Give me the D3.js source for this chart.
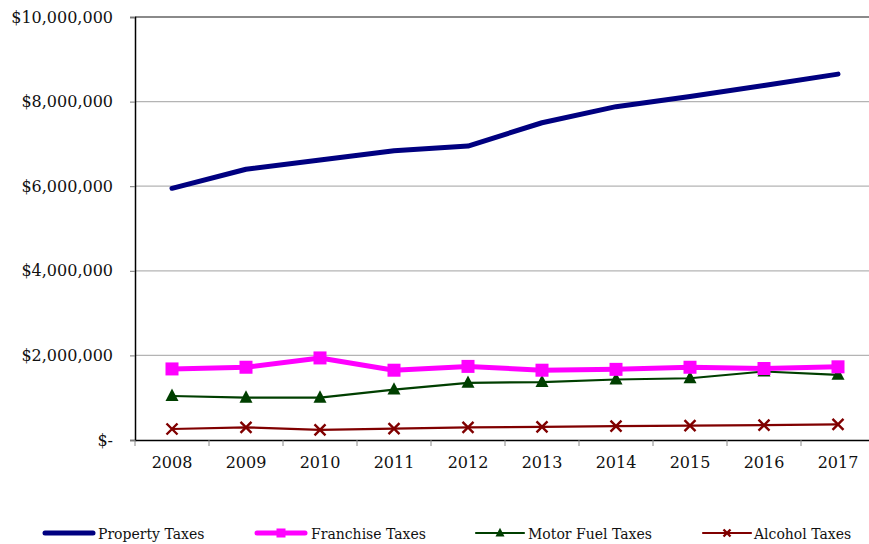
<!DOCTYPE html>
<html>
<head>
<meta charset="utf-8">
<script src="https://cdn.jsdelivr.net/npm/d3@7/dist/d3.min.js"></script>
<style>
  html, body { margin: 0; padding: 0; background: #fff; }
  svg { display: block; }
  text { font-family: "DejaVu Serif", "Liberation Serif", serif; fill: #111; }
</style>
</head>
<body>
<svg id="chart" width="869" height="544"></svg>
<script>
// Annual tax revenue by source, 2008–2017
const years = ["2008","2009","2010","2011","2012","2013","2014","2015","2016","2017"];
const propertyTaxes  = [5950000, 6400000, 6620000, 6840000, 6950000, 7500000, 7880000, 8120000, 8380000, 8650000];
const franchiseTaxes = [1680000, 1720000, 1940000, 1650000, 1740000, 1650000, 1670000, 1720000, 1690000, 1730000];
const motorFuelTaxes = [1040000, 1000000, 1000000, 1190000, 1350000, 1370000, 1430000, 1460000, 1620000, 1540000];
const alcoholTaxes   = [260000, 300000, 240000, 270000, 300000, 310000, 330000, 340000, 350000, 370000];
const yTicks = [0, 2000000, 4000000, 6000000, 8000000, 10000000];

const series = [
  { name: "Property Taxes",   values: propertyTaxes,  color: "#000080", width: 5,   marker: "none" },
  { name: "Franchise Taxes",  values: franchiseTaxes, color: "#FF00FF", width: 5,   marker: "square" },
  { name: "Motor Fuel Taxes", values: motorFuelTaxes, color: "#003F00", width: 2.2, marker: "triangle" },
  { name: "Alcohol Taxes",    values: alcoholTaxes,   color: "#800000", width: 2.2, marker: "cross" }
];

const svg = d3.select("#chart");
const plotLeft = 135, plotRight = 875, plotTop = 17, plotBottom = 440;

const x = d3.scaleBand().domain(years).range([plotLeft, plotRight]);
const y = d3.scaleLinear().domain([0, 10000000]).range([plotBottom, plotTop]);

const money = v => v === 0 ? "$-" : "$" + d3.format(",")(v);

// horizontal gridlines
svg.append("g").selectAll("line")
  .data(yTicks.filter(t => t > 0))
  .join("line")
  .attr("x1", plotLeft).attr("x2", 869)
  .attr("y1", d => y(d)).attr("y2", d => y(d))
  .attr("stroke", d => d === 10000000 ? "#8a8a8a" : "#b4b4b4")
  .attr("stroke-width", d => d === 10000000 ? 2 : 1.2);

// y axis
const yAxis = svg.append("g")
  .attr("transform", `translate(${plotLeft},0)`)
  .call(d3.axisLeft(y).tickValues(yTicks).tickFormat(money).tickSize(5).tickPadding(17));
yAxis.select(".domain").attr("stroke", "#000").attr("stroke-width", 1.5);
yAxis.selectAll(".tick line").attr("stroke", "#777");
yAxis.selectAll("text")
  .style("font-family", "DejaVu Serif, serif")
  .style("font-size", "16px").attr("fill", "#111");

// x axis with ticks on band boundaries
const xAxis = svg.append("g")
  .attr("transform", `translate(0,${plotBottom})`)
  .call(d3.axisBottom(x).tickSize(0).tickPadding(17));
xAxis.select(".domain").attr("stroke", "#000").attr("stroke-width", 1.5);
xAxis.selectAll("text")
  .style("font-family", "DejaVu Serif, serif")
  .style("font-size", "16px").attr("fill", "#111");
svg.append("g").selectAll("line")
  .data(years.map(d => x(d)))
  .join("line")
  .attr("x1", d => d).attr("x2", d => d)
  .attr("y1", plotBottom).attr("y2", plotBottom + 6)
  .attr("stroke", "#888");

const cx = d => x(d) + x.bandwidth() / 2;

function drawMarker(g, type, color, px, py, s) {
  if (type === "square") {
    g.append("rect").attr("x", px - s / 2).attr("y", py - s / 2)
      .attr("width", s).attr("height", s).attr("fill", color);
  } else if (type === "triangle") {
    const h = s * 0.95;
    g.append("path")
      .attr("d", `M${px},${py - h * 0.6}L${px + s / 2},${py + h * 0.4}L${px - s / 2},${py + h * 0.4}Z`)
      .attr("fill", color);
  } else if (type === "cross") {
    const r = s / 2;
    g.append("path")
      .attr("d", `M${px - r},${py - r}L${px + r},${py + r}M${px - r},${py + r}L${px + r},${py - r}`)
      .attr("stroke", color).attr("stroke-width", 2.4).attr("fill", "none");
  }
}

const line = d3.line().x((d, i) => cx(years[i])).y(d => y(d));

// draw series bottom-up so that property sits on top
series.slice().reverse().forEach(s => {
  const g = svg.append("g");
  g.append("path")
    .datum(s.values)
    .attr("d", line)
    .attr("fill", "none")
    .attr("stroke", s.color)
    .attr("stroke-width", s.width)
    .attr("stroke-linejoin", "round")
    .attr("stroke-linecap", "round");
  const size = s.marker === "square" ? 13 : s.marker === "triangle" ? 13 : 11;
  s.values.forEach((v, i) => drawMarker(g, s.marker, s.color, cx(years[i]), y(v), size));
});

// legend
const legendItems = [
  { x: 45,  textX: 98 },
  { x: 257, textX: 311 },
  { x: 476, textX: 528 },
  { x: 703, textX: 754 }
];
const ly = 533;
series.forEach((s, i) => {
  const li = legendItems[i];
  const g = svg.append("g");
  g.append("line")
    .attr("x1", li.x).attr("x2", li.x + 48)
    .attr("y1", ly).attr("y2", ly)
    .attr("stroke", s.color).attr("stroke-width", s.width)
    .attr("stroke-linecap", "round");
  const size = s.marker === "square" ? 9 : s.marker === "triangle" ? 9 : 7;
  drawMarker(g, s.marker, s.color, li.x + 24, ly, size);
  g.append("text")
    .attr("x", li.textX).attr("y", ly + 5.5)
    .style("font-size", "14px")
    .text(s.name);
});
</script>
</body>
</html>
